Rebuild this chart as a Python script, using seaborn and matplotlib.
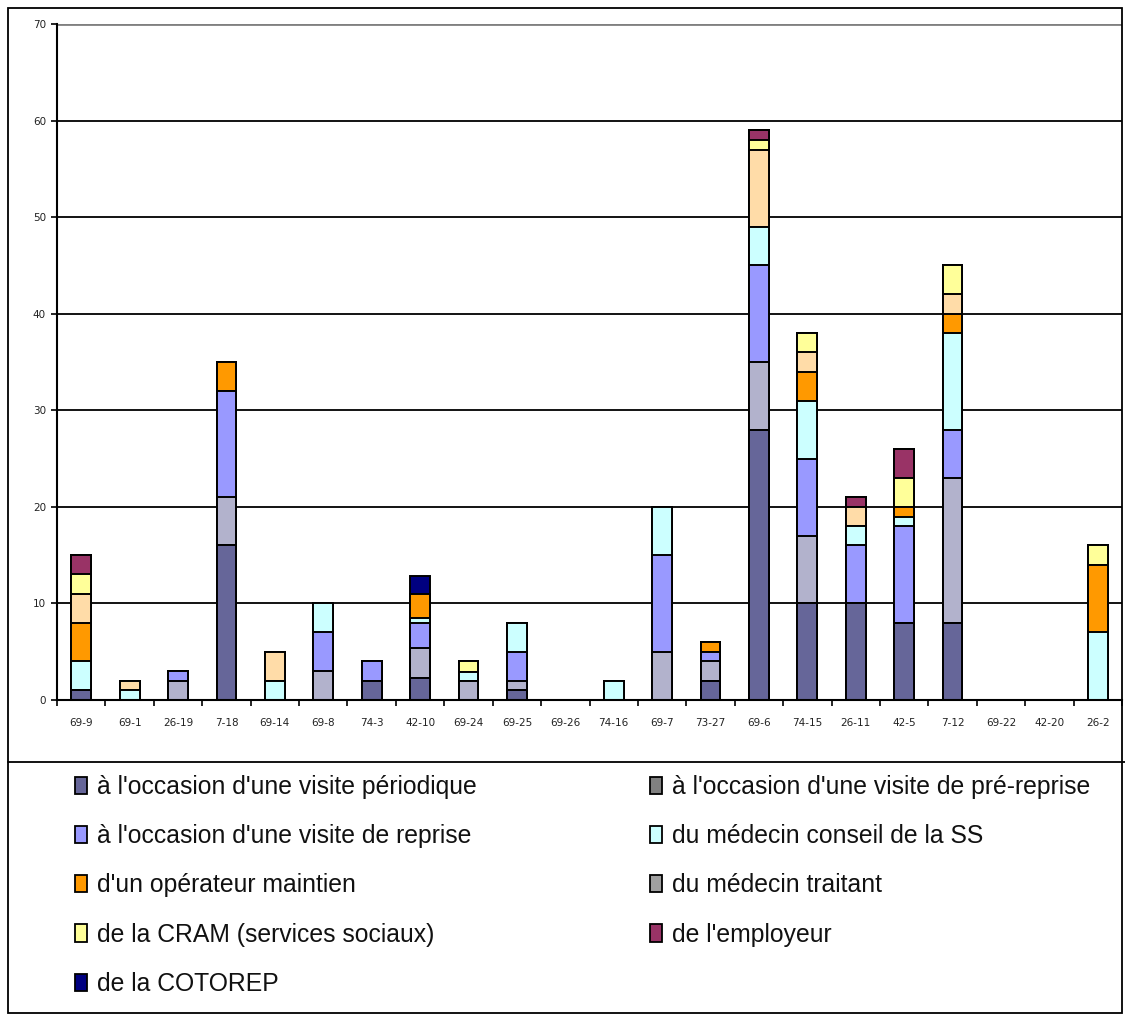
import matplotlib
matplotlib.use("Agg")
import matplotlib.pyplot as plt
import seaborn as sns
import numpy as np
from matplotlib.patches import Patch, Rectangle
from matplotlib.lines import Line2D

sns.set_theme(style="white")
plt.rcParams['font.family'] = ['Liberation Sans', 'DejaVu Sans']

categories = ["69-9", "69-1", "26-19", "7-18", "69-14", "69-8", "74-3", "42-10",
              "69-24", "69-25", "69-26", "74-16", "69-7", "73-27", "69-6", "74-15",
              "26-11", "42-5", "7-12", "69-22", "42-20", "26-2"]

periodique = [1, 0, 0, 16, 0, 0, 2, 2.3, 0, 1, 0, 0, 0, 2, 28, 10, 10, 8, 8, 0, 0, 0]
pre_reprise = [0, 0, 0, 0, 0, 0, 0, 0, 0, 0, 0, 0, 0, 0, 0, 0, 0, 0, 0, 0, 0, 0]
traitant = [0, 0, 2, 5, 0, 3, 0, 3.1, 2, 1, 0, 0, 5, 2, 7, 7, 0, 0, 15, 0, 0, 0]
reprise = [0, 0, 1, 11, 0, 4, 2, 2.6, 0, 3, 0, 0, 10, 1, 10, 8, 6, 10, 5, 0, 0, 0]
conseil = [3, 1, 0, 0, 2, 3, 0, 0.5, 0.9, 3, 0, 2, 5, 0, 4, 6, 2, 1, 10, 0, 0, 7]
operateur = [4, 0, 0, 3, 0, 0, 0, 2.5, 0, 0, 0, 0, 0, 1, 0, 3, 0, 1, 2, 0, 0, 7]
non_legende = [3, 1, 0, 0, 3, 0, 0, 0, 0, 0, 0, 0, 0, 0, 8, 2, 2, 0, 2, 0, 0, 0]
cram = [2, 0, 0, 0, 0, 0, 0, 0, 1.1, 0, 0, 0, 0, 0, 1, 2, 0, 3, 3, 0, 0, 2]
employeur = [2, 0, 0, 0, 0, 0, 0, 0, 0, 0, 0, 0, 0, 0, 1, 0, 1, 3, 0, 0, 0, 0]
cotorep = [0, 0, 0, 0, 0, 0, 0, 1.8, 0, 0, 0, 0, 0, 0, 0, 0, 0, 0, 0, 0, 0, 0]

labels = {
    "periodique": "à l'occasion d'une visite périodique",
    "pre_reprise": "à l'occasion d'une visite de pré-reprise",
    "reprise": "à l'occasion d'une visite de reprise",
    "conseil": "du médecin conseil de la SS",
    "operateur": "d'un opérateur maintien",
    "traitant": "du médecin traitant",
    "cram": "de la CRAM (services sociaux)",
    "employeur": "de l'employeur",
    "cotorep": "de la COTOREP",
}

# stacking order bottom -> top
stack = [
    ("periodique", periodique, "#666699"),
    ("pre_reprise", pre_reprise, "#808080"),
    ("traitant", traitant, "#B2B2CC"),
    ("reprise", reprise, "#9999FF"),
    ("conseil", conseil, "#CCFFFF"),
    ("operateur", operateur, "#FF9900"),
    ("non_legende", non_legende, "#FFDCA8"),
    ("cram", cram, "#FFFF99"),
    ("employeur", employeur, "#993366"),
    ("cotorep", cotorep, "#000080"),
]
legend_colors = {
    "periodique": "#666699", "pre_reprise": "#808080", "reprise": "#9999FF",
    "conseil": "#CCFFFF", "operateur": "#FF9900", "traitant": "#A0A0A0",
    "cram": "#FFFF99", "employeur": "#993366", "cotorep": "#000080",
}

W, H = 1125, 1015
fig = plt.figure(figsize=(W / 100, H / 100), dpi=100)
ax = fig.add_axes([57 / W, 1 - 700 / H, (1122 - 57) / W, (700 - 24) / H])

cums = np.cumsum(np.array([s[1] for s in stack], dtype=float), axis=0)
for i in range(len(stack) - 1, -1, -1):
    sns.barplot(x=categories, y=cums[i], order=categories, color=stack[i][2],
                saturation=1, edgecolor="black", linewidth=1.4, width=0.41, ax=ax)

ax.set_ylim(0, 70)
ax.set_xlim(-0.5, len(categories) - 0.5)
yt = np.arange(0, 71, 10)
ax.set_yticks(yt)
for v in yt[1:]:
    ax.axhline(v, color="#808080" if v == 70 else "black", lw=2 if v == 70 else 1.3, zorder=0)
ax.grid(False)
ax.set_xlabel("")
ax.set_ylabel("")
for s in ["top", "right"]:
    ax.spines[s].set_visible(False)
for s in ["left", "bottom"]:
    ax.spines[s].set_color("black")
    ax.spines[s].set_linewidth(1.5)
ax.tick_params(axis="y", left=True, length=4, width=1.2, color="black", labelsize=7.5, pad=4)
ax.tick_params(axis="x", bottom=False, labelsize=7.5, pad=7)
ax.set_xticks(np.arange(-0.5, len(categories), 1), minor=True)
ax.tick_params(axis="x", which="minor", bottom=True, length=4, width=1.2, color="black")
for t in ax.get_yticklabels() + ax.get_xticklabels():
    t.set_family("DejaVu Sans")
    t.set_color("#222222")

# Outer frame and legend separator
fig.add_artist(Rectangle((8 / W, 1 - 1013 / H), (1122 - 8) / W, (1013 - 8) / H,
                         transform=fig.transFigure, fill=False, ec="black", lw=1.3))
fig.add_artist(Line2D([8 / W, 1125 / W], [1 - 762 / H] * 2, transform=fig.transFigure,
                      color="black", lw=1.3))

col1 = ["periodique", "reprise", "operateur", "cram", "cotorep"]
col2 = ["pre_reprise", "conseil", "traitant", "employeur"]
for keys, x0 in [(col1, 75), (col2, 650)]:
    handles = [Patch(facecolor=legend_colors[k], edgecolor="black", lw=1.3, label=labels[k]) for k in keys]
    leg = fig.legend(handles=handles, loc="upper left", bbox_to_anchor=(x0 / W, 1 - 775 / H),
                     frameon=False, fontsize=17.8, handlelength=0.5, handleheight=0.7,
                     handletextpad=0.38, labelspacing=1.02, borderaxespad=0, borderpad=0)
    for t in leg.get_texts():
        t.set_color("#111111")

fig.savefig("out.png", dpi=100)
